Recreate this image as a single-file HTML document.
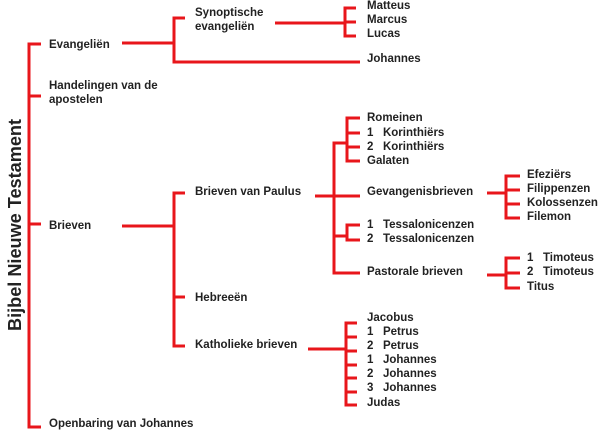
<!DOCTYPE html>
<html><head><meta charset="utf-8"><style>
html,body{margin:0;padding:0;background:#fff;}
svg{display:block;}
text{font-family:"Liberation Sans",Arial,sans-serif;font-weight:bold;font-size:11.5px;fill:#222;dominant-baseline:central;}
</style></head><body>
<svg width="600" height="433" viewBox="0 0 600 433">
<g stroke="#e8161b" stroke-width="3" fill="none">
<path d="M41,44H29V427H41M29,96H41M29,224H41"/>
<path d="M122,43H174M185,18H174V62H360"/>
<path d="M275,23H345M356,8H345V36H356M345,22H356"/>
<path d="M122,226H174M185,193H174V346H185M174,297H185"/>
<path d="M315,196H360M346,143H334V273H360"/>
<path d="M360,118H347V161H360M347,133H360M347,147H360"/>
<path d="M487,193H506M520,176H506V218H520M506,190H520M506,204H520"/>
<path d="M334,236H347M360,225H347V240H360"/>
<path d="M487,275H506M520,258H506V288H520M506,273H520"/>
<path d="M308,349H346M357,323H346V405H357M346,337H357M346,351H357M346,365H357M346,378H357M346,392H357"/>
</g>
<text x="15" y="225" transform="rotate(-90 15 225)" text-anchor="middle" style="font-size:18px" textLength="212" lengthAdjust="spacingAndGlyphs">Bijbel Nieuwe Testament</text>
<text x="49" y="45">Evangeliën</text>
<text x="49" y="86">Handelingen van de</text>
<text x="49" y="100">apostelen</text>
<text x="49" y="226">Brieven</text>
<text x="49" y="424">Openbaring van Johannes</text>
<text x="195" y="13">Synoptische</text>
<text x="195" y="27">evangeliën</text>
<text x="367" y="6">Matteus</text>
<text x="367" y="20">Marcus</text>
<text x="367" y="34">Lucas</text>
<text x="367" y="59">Johannes</text>
<text x="195" y="192">Brieven van Paulus</text>
<text x="195" y="298">Hebreeën</text>
<text x="195" y="345">Katholieke brieven</text>
<text x="367" y="118">Romeinen</text>
<text x="367" y="133" xml:space="preserve">1   Korinthiërs</text>
<text x="367" y="147" xml:space="preserve">2   Korinthiërs</text>
<text x="367" y="161">Galaten</text>
<text x="367" y="192">Gevangenisbrieven</text>
<text x="367" y="225" xml:space="preserve">1   Tessalonicenzen</text>
<text x="367" y="239" xml:space="preserve">2   Tessalonicenzen</text>
<text x="367" y="272">Pastorale brieven</text>
<text x="527" y="175">Efeziërs</text>
<text x="527" y="189">Filippenzen</text>
<text x="527" y="203">Kolossenzen</text>
<text x="527" y="217">Filemon</text>
<text x="527" y="258" xml:space="preserve">1   Timoteus</text>
<text x="527" y="272" xml:space="preserve">2   Timoteus</text>
<text x="527" y="287">Titus</text>
<text x="367" y="318">Jacobus</text>
<text x="367" y="332" xml:space="preserve">1   Petrus</text>
<text x="367" y="346" xml:space="preserve">2   Petrus</text>
<text x="367" y="360" xml:space="preserve">1   Johannes</text>
<text x="367" y="374" xml:space="preserve">2   Johannes</text>
<text x="367" y="388" xml:space="preserve">3   Johannes</text>
<text x="367" y="403">Judas</text>
</svg>
</body></html>
